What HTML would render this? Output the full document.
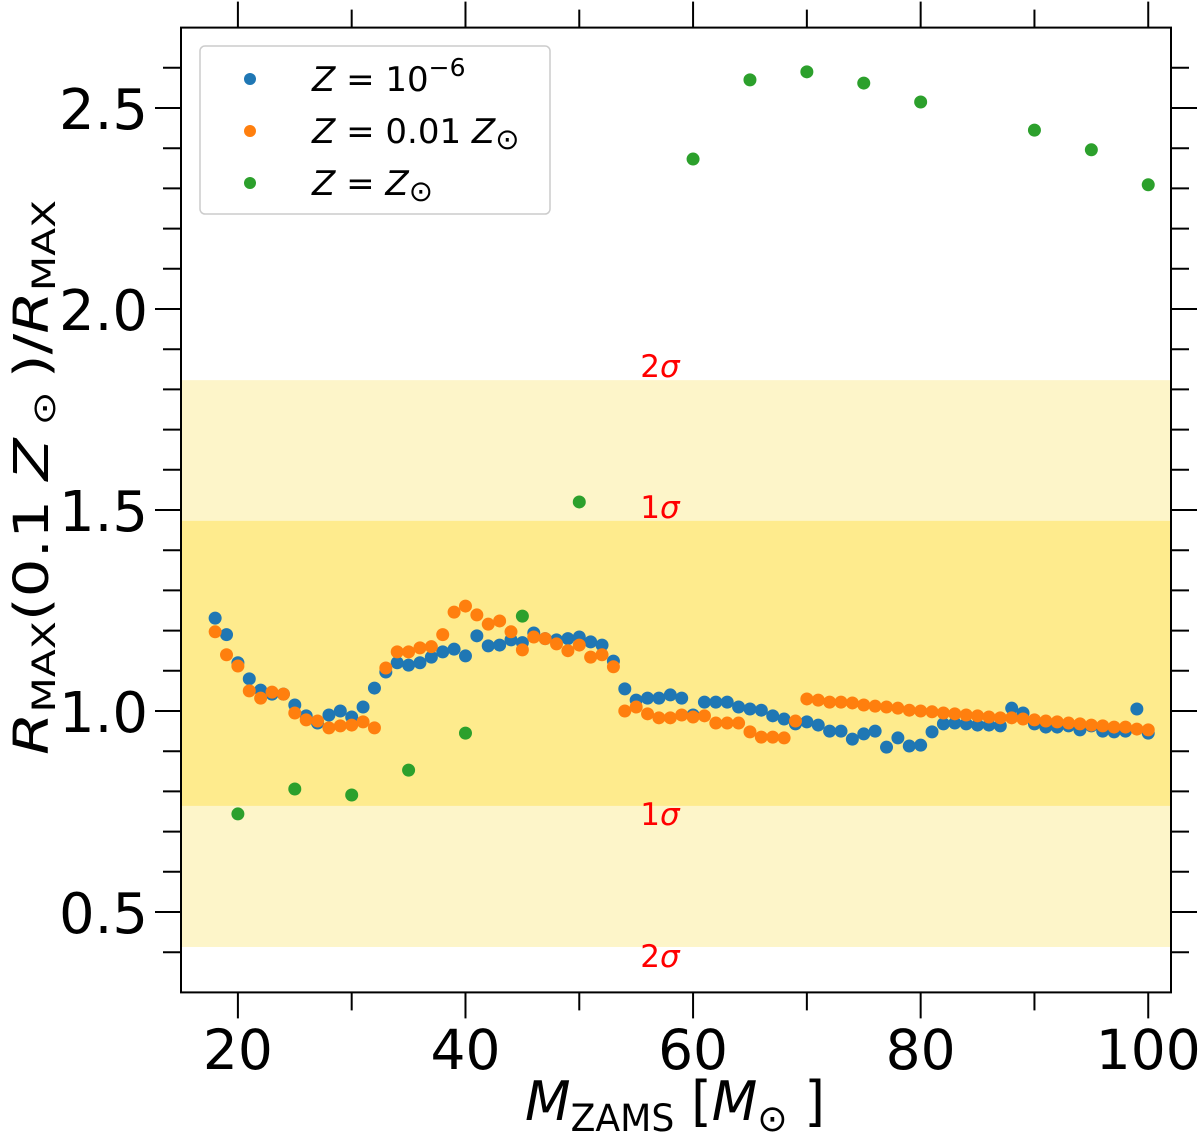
<!DOCTYPE html>
<html><head><meta charset="utf-8"><style>
body{margin:0;background:#fff;}
svg text{font-family:"DejaVu Sans","Liberation Sans",sans-serif;}
</style></head><body>
<svg id="chart" width="1200" height="1136" viewBox="0 0 1200 1136" xmlns="http://www.w3.org/2000/svg">
<g id="bands"></g>
<g id="sig"></g>
<g id="pts"></g>
<g id="axes"></g>
<g id="legend">
  <rect x="200" y="46" width="350" height="168" rx="5" fill="#fff" fill-opacity="0.8" stroke="#ccc" stroke-width="1.5"/>
  <circle cx="250" cy="79" r="6" fill="#1f77b4"/>
  <circle cx="250" cy="131" r="6" fill="#ff7f0e"/>
  <circle cx="250" cy="183" r="6" fill="#2ca02c"/>
  <text x="312" y="91" font-size="34"><tspan font-style="italic">Z</tspan> = 10<tspan dy="-15" font-size="25">−6</tspan></text>
  <text x="312" y="143" font-size="34"><tspan font-style="italic">Z</tspan> = 0.01 <tspan font-style="italic">Z</tspan><tspan dy="6" font-size="29">⊙</tspan></text>
  <text x="312" y="195" font-size="34"><tspan font-style="italic">Z</tspan> = <tspan font-style="italic">Z</tspan><tspan dy="6" font-size="29">⊙</tspan></text>
</g>
<text x="525" y="1120" font-size="54" textLength="300" lengthAdjust="spacingAndGlyphs"><tspan font-style="italic">M</tspan><tspan font-size="37" dy="11">ZAMS</tspan><tspan dy="-11"> [</tspan><tspan font-style="italic">M</tspan><tspan font-size="37" dy="11">⊙</tspan><tspan dy="-11"> ]</tspan></text>
<text transform="translate(48,755) rotate(-90)" font-size="48" textLength="555" lengthAdjust="spacingAndGlyphs"><tspan font-style="italic">R</tspan><tspan font-size="32" dy="7">MAX</tspan><tspan dy="-7">(0.1 </tspan><tspan font-style="italic">Z</tspan><tspan font-size="32" dy="7"> ⊙ </tspan><tspan dy="-7">)/</tspan><tspan font-style="italic">R</tspan><tspan font-size="32" dy="7">MAX</tspan></text>
</svg>
<script>
const masses = [];
for (let m = 18; m <= 100; m++) masses.push(m);
const blueVals = [1.231,1.19,1.12,1.08,1.052,1.042,1.042,1.015,0.988,0.97,0.99,1.0,0.985,1.01,1.057,1.097,1.12,1.114,1.12,1.134,1.147,1.154,1.137,1.187,1.162,1.164,1.177,1.17,1.194,1.18,1.177,1.18,1.184,1.172,1.164,1.124,1.055,1.027,1.032,1.032,1.04,1.032,0.99,1.022,1.022,1.022,1.01,1.005,1.002,0.988,0.98,0.968,0.973,0.965,0.95,0.95,0.93,0.943,0.95,0.91,0.933,0.913,0.915,0.948,0.968,0.97,0.968,0.965,0.965,0.963,1.007,0.995,0.968,0.96,0.96,0.963,0.953,0.963,0.95,0.948,0.95,1.005,0.945];
const orangeVals = [1.197,1.14,1.112,1.05,1.032,1.047,1.042,0.995,0.978,0.975,0.958,0.963,0.965,0.973,0.958,1.107,1.147,1.147,1.157,1.16,1.19,1.246,1.261,1.239,1.216,1.224,1.197,1.152,1.184,1.18,1.167,1.15,1.164,1.134,1.14,1.11,1.0,1.01,0.993,0.983,0.983,0.99,0.985,0.988,0.97,0.97,0.97,0.948,0.935,0.935,0.933,0.975,1.03,1.027,1.022,1.022,1.02,1.015,1.012,1.01,1.007,1.002,1.0,0.998,0.995,0.993,0.99,0.988,0.985,0.983,0.983,0.98,0.978,0.975,0.973,0.97,0.968,0.965,0.963,0.96,0.96,0.955,0.953];
const greenMass = [20,25,30,35,40,45,50,60,65,70,75,80,90,95,100];
const greenVals = [0.744,0.806,0.791,0.853,0.945,1.236,1.52,2.373,2.57,2.59,2.562,2.515,2.445,2.396,2.309];
const bandLevels = [0.413,0.764,1.473,1.823];
const xTicks = [20,40,60,80,100];
const yTicks = [0.5,1.0,1.5,2.0,2.5];

const NS="http://www.w3.org/2000/svg";
const X0=15,X1=102,PX0=181,PX1=1171,Y0=0.3,Y1=2.7,PY0=992.4,PY1=27.6;
const sx=v=>PX0+(v-X0)/(X1-X0)*(PX1-PX0);
const sy=v=>PY0+(v-Y0)/(Y1-Y0)*(PY1-PY0);
function mk(tag,attrs,parent){const e=document.createElementNS(NS,tag);for(const k in attrs)e.setAttribute(k,attrs[k]);parent.appendChild(e);return e;}

const bands=document.getElementById('bands');
let b=mk('rect',{x:PX0,y:sy(bandLevels[3]),width:PX1-PX0,height:sy(bandLevels[0])-sy(bandLevels[3]),fill:'#fdf5c9'},bands);


b=mk('rect',{x:PX0,y:sy(bandLevels[2]),width:PX1-PX0,height:sy(bandLevels[1])-sy(bandLevels[2]),fill:'#feeb8d'},bands);



const sig=document.getElementById('sig');
const sigLabels=['2σ','1σ','1σ','2σ'];
const sigY=[sy(bandLevels[3])-3,sy(bandLevels[2])-3,sy(bandLevels[1])+19,sy(bandLevels[0])+20];
for(let i=0;i<4;i++){const t=mk('text',{x:660,y:sigY[i],'font-size':31,fill:'#ff0000','text-anchor':'middle'},sig);


t.innerHTML=sigLabels[i][0]+'<tspan font-style="italic">σ</tspan>';}

const pts=document.getElementById('pts');
function series(xs,ys,col,name){for(let i=0;i<ys.length;i++){const c=mk('circle',{cx:sx(xs[i]),cy:sy(ys[i]),r:6.5,fill:col},pts);

}}
series(masses,blueVals,'#1f77b4','point-z-1e-6');
series(masses,orangeVals,'#ff7f0e','point-z-0.01');
series(greenMass,greenVals,'#2ca02c','point-z-sun');

const ax=document.getElementById('axes');
const fr=mk('rect',{x:PX0,y:PY1,width:PX1-PX0,height:PY0-PY1,fill:'none',stroke:'#000','stroke-width':2},ax);


for(let v=20;v<=100;v+=10){const X=sx(v);const L=(v%20===0)?26:18;
mk('line',{x1:X,x2:X,y1:PY0,y2:PY0+L,stroke:'#000','stroke-width':2},ax);
mk('line',{x1:X,x2:X,y1:PY1,y2:PY1-L,stroke:'#000','stroke-width':2},ax);}
for(let k=4;k<=26;k++){const v=k/10;const Y=sy(v);const L=(k%5===0)?26:18;
mk('line',{x1:PX0,x2:PX0-L,y1:Y,y2:Y,stroke:'#000','stroke-width':2},ax);
mk('line',{x1:PX1,x2:PX1+L,y1:Y,y2:Y,stroke:'#000','stroke-width':2},ax);}
xTicks.forEach(v=>{const t=mk('text',{x:sx(v),y:1069,'font-size':55,'text-anchor':'middle'},ax);


t.textContent=v;});
yTicks.forEach(v=>{const t=mk('text',{x:148,y:sy(v)+21,'font-size':56,'text-anchor':'end'},ax);


t.textContent=v.toFixed(1);});
</script>
</body></html>
